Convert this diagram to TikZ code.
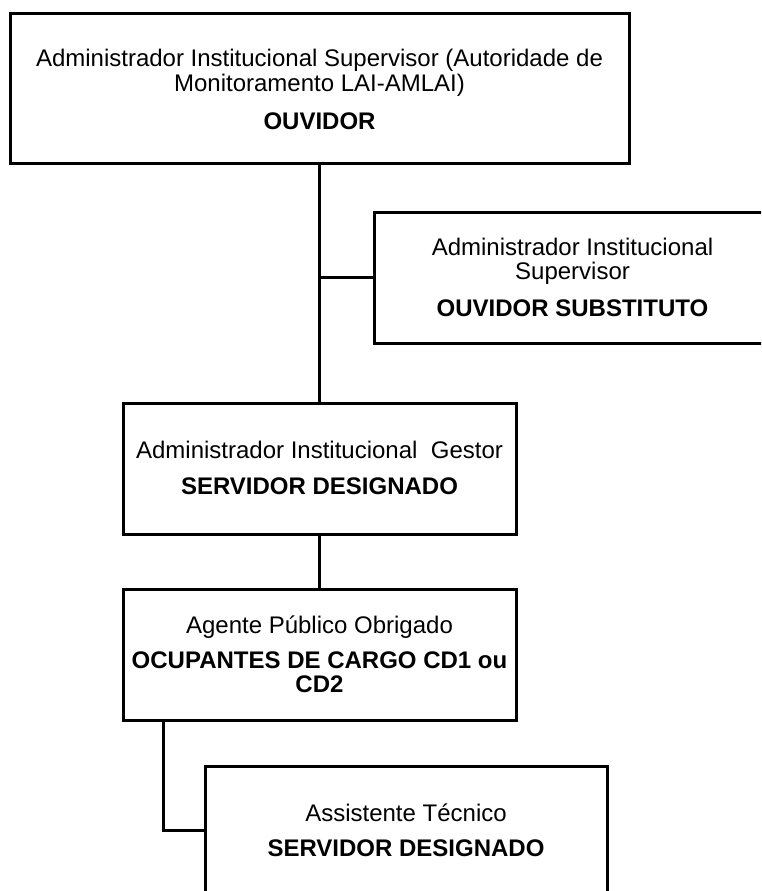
\documentclass[tikz,border=0pt]{standalone}
\usepackage{fontspec}
\setmainfont{Liberation Sans}
\begin{document}
\begin{tikzpicture}[x=0.75pt,y=-0.75pt,
  box/.style={draw, line width=2.25pt, inner sep=0pt, rectangle},
  lab/.style={anchor=base, inner sep=0pt, font=\fontsize{18}{18}\selectfont},
  bl/.style={anchor=base, inner sep=0pt, font=\fontsize{18}{18}\selectfont\bfseries},
  conn/.style={line width=2.25pt}]
\useasboundingbox (0,0) rectangle (761,891);
\clip (0,0) rectangle (761,891);
\fill[white] (0,0) rectangle (761,891);
% boxes
\node[box, minimum width={619*0.75pt}, minimum height={150*0.75pt}] (b1) at (319.5,89) {};
\node[box, minimum width={397*0.75pt}, minimum height={130*0.75pt}] (b2) at (572.5,278) {};
\node[box, minimum width={393*0.75pt}, minimum height={131*0.75pt}] (b3) at (319.5,468.5) {};
\node[box, minimum width={393*0.75pt}, minimum height={131*0.75pt}] (b4) at (319.5,654.5) {};
\node[box, minimum width={402*0.75pt}, minimum height={140*0.75pt}] (b5) at (406,836) {};
% texts
\node[lab] (t1a) at (319.5,67) {Administrador Institucional Supervisor (Autoridade de};
\node[lab] (t1b) at (319.5,92) {Monitoramento LAI-AMLAI)};
\node[bl] (t1c) at (319.5,130) {OUVIDOR};
\node[lab] (t2a) at (572.5,255) {Administrador Institucional};
\node[lab] (t2b) at (572.5,279) {Supervisor};
\node[bl] (t2c) at (572.5,316) {OUVIDOR SUBSTITUTO};
\node[lab] (t3a) at (319.5,458) {Administrador Institucional\ \ Gestor};
\node[bl] (t3b) at (319.5,494) {SERVIDOR DESIGNADO};
\node[lab] (t4a) at (319.5,633) {Agente Público Obrigado};
\node[bl] (t4b) at (319.5,668) {OCUPANTES DE CARGO CD1 ou};
\node[bl] (t4c) at (319.5,692) {CD2};
\node[lab] (t5a) at (406,821) {Assistente Técnico};
\node[bl] (t5b) at (406,856) {SERVIDOR DESIGNADO};
% connectors
\coordinate (j1) at (320,277);
\coordinate (e1) at (163,830);
\draw[conn] (b1.south) -- (b3.north);
\draw[conn] (j1) -- (j1 -| b2.west);
\draw[conn] (b3.south) -- (b4.north);
\draw[conn] (b4.south -| e1) -- (e1) -- (e1 -| b5.west);
\end{tikzpicture}
\end{document}
